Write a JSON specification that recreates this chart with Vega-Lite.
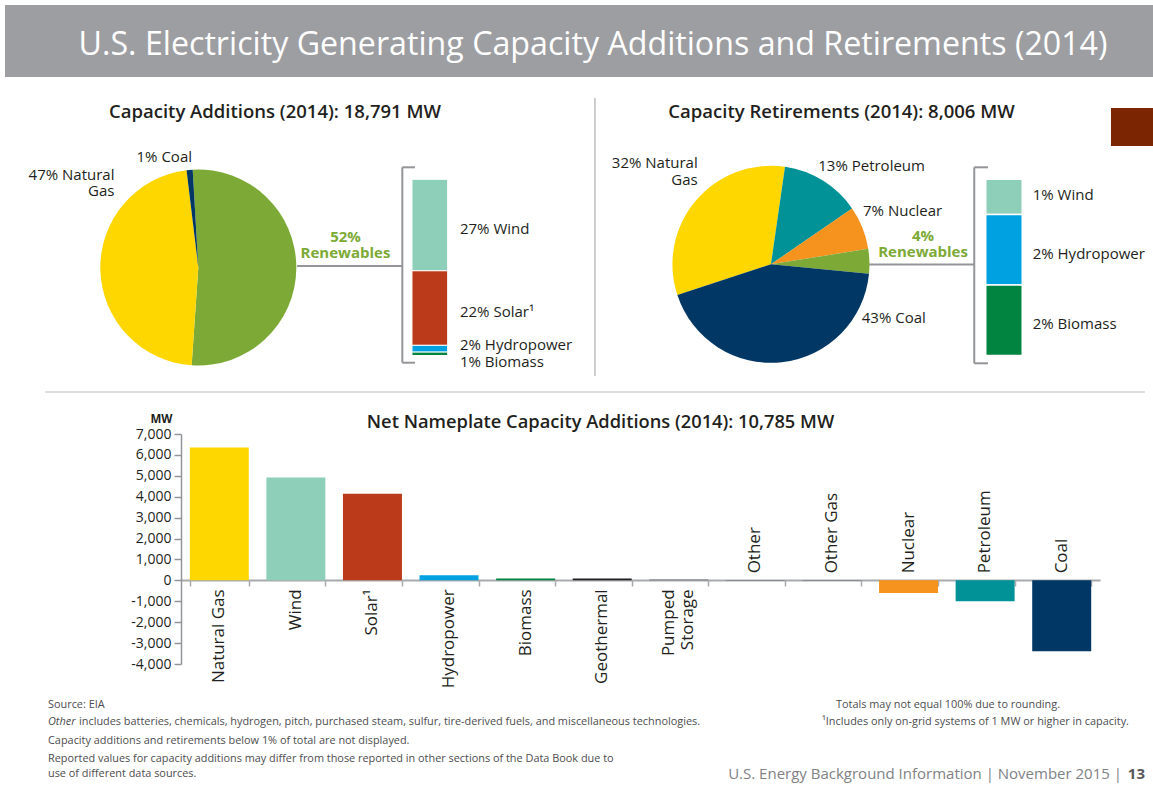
{
  "$schema": "https://vega.github.io/schema/vega-lite/v6.json",
  "background": "white",
  "padding": {"left": 5, "top": 5, "right": 0, "bottom": 0},
  "spacing": 0,
  "bounds": "flush",
  "resolve": {"scale": {"color": "independent"}},
  "config": {"view": {"stroke": null}, "font": "Open Sans", "text": {"font": "Open Sans", "color": "#231f20"}},
  "datasets": {
    "additions_mix": [
      {"source": "Renewables", "pct": 52},
      {"source": "Natural Gas", "pct": 47},
      {"source": "Coal", "pct": 1}
    ],
    "additions_renewables": [
      {"source": "Wind", "pct": 27},
      {"source": "Solar", "pct": 22},
      {"source": "Hydropower", "pct": 2},
      {"source": "Biomass", "pct": 1}
    ],
    "retirements_mix": [
      {"source": "Natural Gas", "pct": 32},
      {"source": "Petroleum", "pct": 13},
      {"source": "Nuclear", "pct": 7},
      {"source": "Renewables", "pct": 4},
      {"source": "Coal", "pct": 43}
    ],
    "retirements_renewables": [
      {"source": "Wind", "pct": 1},
      {"source": "Hydropower", "pct": 2},
      {"source": "Biomass", "pct": 2}
    ],
    "net_additions": [
      {"category": "Natural Gas", "value": 6355},
      {"category": "Wind", "value": 4914},
      {"category": "Solar", "value": 4146},
      {"category": "Hydropower", "value": 240},
      {"category": "Biomass", "value": 90},
      {"category": "Geothermal", "value": 90},
      {"category": "Pumped Storage", "value": 40},
      {"category": "Other", "value": -20},
      {"category": "Other Gas", "value": -20},
      {"category": "Nuclear", "value": -610},
      {"category": "Petroleum", "value": -994},
      {"category": "Coal", "value": -3395}
    ]
  },
  "vconcat": [
    {
      "width": 1148,
      "height": 72,
      "view": {"fill": "#9d9ea2", "stroke": null},
      "data": {"values": [{}]},
      "mark": {"type": "text", "text": "U.S. Electricity Generating Capacity Additions and Retirements (2014)", "color": "white", "fontSize": 32.2, "fontWeight": 500, "align": "center", "baseline": "middle", "dx": 14, "dy": 4},
      "encoding": {}
    },
    {
      "width": 1148,
      "height": 357,
      "resolve": {"scale": {"theta": "independent"}},
      "layer": [
        {
          "data": {"values": [{}]},
          "layer": [
            {"mark": {"type": "rule", "color": "#d1d3d4", "strokeWidth": 1.5},
             "encoding": {"x": {"datum": 3.484, "type": "quantitative", "scale": {"domain": [0, 100], "nice": false, "zero": false}, "axis": null}, "x2": {"datum": 99.3},
                          "y": {"datum": -0.2072, "type": "quantitative", "scale": {"domain": [-0.4455, 1.5806], "nice": false, "zero": false}, "axis": null}}},
            {"mark": {"type": "rule", "color": "#bcbec0", "strokeWidth": 1.5},
             "encoding": {"x": {"datum": 51.39, "type": "quantitative", "axis": null}, "y": {"datum": 1.4614, "type": "quantitative", "axis": null}, "y2": {"datum": -0.1163}}},
            {"mark": {"type": "rect", "color": "#7b2503"},
             "encoding": {"x": {"datum": 96.34, "type": "quantitative", "axis": null}, "x2": {"datum": 100}, "y": {"datum": 1.4047, "type": "quantitative", "axis": null}, "y2": {"datum": 1.189}}},

            {"mark": {"type": "rule", "color": "#939598", "strokeWidth": 2},
             "encoding": {"x": {"datum": 25.44, "type": "quantitative", "axis": null}, "x2": {"datum": 34.61}, "y": {"datum": 0.5079, "type": "quantitative", "axis": null}}},
            {"mark": {"type": "rule", "color": "#939598", "strokeWidth": 2},
             "encoding": {"x": {"datum": 34.61, "type": "quantitative", "axis": null}, "y": {"datum": 1.0681, "type": "quantitative", "axis": null}, "y2": {"datum": -0.0409}}},
            {"mark": {"type": "rule", "color": "#939598", "strokeWidth": 2},
             "encoding": {"x": {"datum": 34.61, "type": "quantitative", "axis": null}, "x2": {"datum": 35.71}, "y": {"datum": 1.0681, "type": "quantitative", "axis": null}}},
            {"mark": {"type": "rule", "color": "#939598", "strokeWidth": 2},
             "encoding": {"x": {"datum": 34.61, "type": "quantitative", "axis": null}, "x2": {"datum": 35.71}, "y": {"datum": -0.0409, "type": "quantitative", "axis": null}}},
            {"mark": {"type": "text", "text": "Capacity Additions (2014): 18,791 MW", "fontSize": 18.5, "fontWeight": 600, "align": "center", "baseline": "middle"},
             "encoding": {"x": {"datum": 23.52, "type": "quantitative", "axis": null}, "y": {"datum": 1.3819, "type": "quantitative", "axis": null}}},
            {"mark": {"type": "text", "text": "1% Coal", "fontSize": 15, "align": "right", "baseline": "middle"},
             "encoding": {"x": {"datum": 16.29, "type": "quantitative", "axis": null}, "y": {"datum": 1.1283, "type": "quantitative", "axis": null}}},
            {"mark": {"type": "text", "text": ["47% Natural", "Gas"], "fontSize": 15, "lineHeight": 16, "align": "right", "baseline": "middle"},
             "encoding": {"x": {"datum": 9.538, "type": "quantitative", "axis": null}, "y": {"datum": 1.0244, "type": "quantitative", "axis": null}}},
            {"mark": {"type": "text", "text": ["52%", "Renewables"], "fontSize": 15, "fontWeight": 700, "lineHeight": 16, "color": "#7daa36", "align": "center", "baseline": "middle"},
             "encoding": {"x": {"datum": 29.66, "type": "quantitative", "axis": null}, "y": {"datum": 0.6725, "type": "quantitative", "axis": null}}},

            {"mark": {"type": "rule", "color": "#939598", "strokeWidth": 2},
             "encoding": {"x": {"datum": 75.26, "type": "quantitative", "axis": null}, "x2": {"datum": 84.43}, "y": {"datum": 0.5165, "type": "quantitative", "axis": null}}},
            {"mark": {"type": "rule", "color": "#939598", "strokeWidth": 2},
             "encoding": {"x": {"datum": 84.43, "type": "quantitative", "axis": null}, "y": {"datum": 1.0681, "type": "quantitative", "axis": null}, "y2": {"datum": -0.0443}}},
            {"mark": {"type": "rule", "color": "#939598", "strokeWidth": 2},
             "encoding": {"x": {"datum": 84.43, "type": "quantitative", "axis": null}, "x2": {"datum": 85.63}, "y": {"datum": 1.0681, "type": "quantitative", "axis": null}}},
            {"mark": {"type": "rule", "color": "#939598", "strokeWidth": 2},
             "encoding": {"x": {"datum": 84.43, "type": "quantitative", "axis": null}, "x2": {"datum": 85.63}, "y": {"datum": -0.0443, "type": "quantitative", "axis": null}}},
            {"mark": {"type": "text", "text": "Capacity Retirements (2014): 8,006 MW", "fontSize": 18.5, "fontWeight": 600, "align": "center", "baseline": "middle"},
             "encoding": {"x": {"datum": 72.87, "type": "quantitative", "axis": null}, "y": {"datum": 1.3819, "type": "quantitative", "axis": null}}},
            {"mark": {"type": "text", "text": ["32% Natural", "Gas"], "fontSize": 15, "lineHeight": 17, "align": "right", "baseline": "middle"},
             "encoding": {"x": {"datum": 60.34, "type": "quantitative", "axis": null}, "y": {"datum": 1.0925, "type": "quantitative", "axis": null}}},
            {"mark": {"type": "text", "text": "13% Petroleum", "fontSize": 15, "align": "left", "baseline": "middle"},
             "encoding": {"x": {"datum": 70.84, "type": "quantitative", "axis": null}, "y": {"datum": 1.0755, "type": "quantitative", "axis": null}}},
            {"mark": {"type": "text", "text": "7% Nuclear", "fontSize": 15, "align": "left", "baseline": "middle"},
             "encoding": {"x": {"datum": 74.74, "type": "quantitative", "axis": null}, "y": {"datum": 0.8229, "type": "quantitative", "axis": null}}},
            {"mark": {"type": "text", "text": "43% Coal", "fontSize": 15, "align": "left", "baseline": "middle"},
             "encoding": {"x": {"datum": 74.63, "type": "quantitative", "axis": null}, "y": {"datum": 0.2128, "type": "quantitative", "axis": null}}},
            {"mark": {"type": "text", "text": ["4%", "Renewables"], "fontSize": 15, "fontWeight": 700, "lineHeight": 16, "color": "#7daa36", "align": "center", "baseline": "middle"},
             "encoding": {"x": {"datum": 79.97, "type": "quantitative", "axis": null}, "y": {"datum": 0.6782, "type": "quantitative", "axis": null}}}
          ]
        },
        {
          "data": {"name": "additions_mix"},
          "transform": [{"calculate": "indexof(['Renewables','Natural Gas','Coal'], datum.source)", "as": "rank"}],
          "mark": {"type": "arc", "radius": 98},
          "encoding": {
            "theta": {"field": "pct", "type": "quantitative", "scale": {"range": [-0.0576, 6.2256], "nice": false}},
            "order": {"field": "rank", "type": "quantitative"},
            "color": {"field": "source", "type": "nominal", "legend": null,
                      "scale": {"domain": ["Natural Gas", "Coal", "Renewables", "Petroleum", "Nuclear", "Wind", "Solar", "Hydropower", "Biomass"],
                                "range": ["#fed600", "#003764", "#7daa36", "#009297", "#f6921e", "#8ecfb9", "#bb3a1a", "#00a1e0", "#00843f"]}},
            "x": {"datum": 16.84, "type": "quantitative", "axis": null},
            "y": {"datum": 0.4994, "type": "quantitative", "axis": null}
          }
        },
        {
          "data": {"name": "retirements_mix"},
          "transform": [{"calculate": "indexof(['Petroleum','Nuclear','Renewables','Coal','Natural Gas'], datum.source)", "as": "rank2"}],
          "mark": {"type": "arc", "radius": 98.5},
          "encoding": {
            "theta": {"field": "pct", "type": "quantitative", "scale": {"range": [0.1431, 6.4263], "nice": false}},
            "order": {"field": "rank2", "type": "quantitative"},
            "color": {"field": "source", "type": "nominal", "legend": null},
            "x": {"datum": 66.72, "type": "quantitative", "axis": null},
            "y": {"datum": 0.5176, "type": "quantitative", "axis": null}
          }
        },
        {
          "data": {"name": "additions_renewables"},
          "transform": [
            {"calculate": "indexof(['Biomass','Hydropower','Solar','Wind'], datum.source)", "as": "rank"},
            {"stack": "pct", "groupby": [], "sort": [{"field": "rank", "order": "ascending"}], "offset": "normalize", "as": ["y0", "y1"]},
            {"calculate": "(datum.y0 + datum.y1) / 2", "as": "ymid"},
            {"calculate": "datum.pct + '% ' + (datum.source === 'Solar' ? 'Solar¹' : datum.source)", "as": "label"}
          ],
          "layer": [
            {"mark": {"type": "bar", "stroke": "white", "strokeWidth": 1},
             "encoding": {"x": {"datum": 35.45, "type": "quantitative", "axis": null}, "x2": {"datum": 38.56},
                          "y": {"field": "y0", "type": "quantitative", "axis": null}, "y2": {"field": "y1"},
                          "color": {"field": "source", "type": "nominal", "legend": null}}},
            {"transform": [{"filter": "datum.source === 'Wind' || datum.source === 'Solar'"}],
             "mark": {"type": "text", "align": "left", "baseline": "middle", "fontSize": 15, "dy": 4},
             "encoding": {"x": {"datum": 39.63, "type": "quantitative", "axis": null}, "y": {"field": "ymid", "type": "quantitative", "axis": null}, "text": {"field": "label"}}},
            {"transform": [{"filter": "datum.source === 'Hydropower'"}],
             "mark": {"type": "text", "align": "left", "baseline": "middle", "fontSize": 15, "dy": -4},
             "encoding": {"x": {"datum": 39.63, "type": "quantitative", "axis": null}, "y": {"field": "ymid", "type": "quantitative", "axis": null}, "text": {"field": "label"}}},
            {"transform": [{"filter": "datum.source === 'Biomass'"}],
             "mark": {"type": "text", "align": "left", "baseline": "middle", "fontSize": 15, "dy": 8},
             "encoding": {"x": {"datum": 39.63, "type": "quantitative", "axis": null}, "y": {"field": "ymid", "type": "quantitative", "axis": null}, "text": {"field": "label"}}}
          ]
        },
        {
          "data": {"name": "retirements_renewables"},
          "transform": [
            {"calculate": "indexof(['Biomass','Hydropower','Solar','Wind'], datum.source)", "as": "rank"},
            {"stack": "pct", "groupby": [], "sort": [{"field": "rank", "order": "ascending"}], "offset": "normalize", "as": ["y0", "y1"]},
            {"calculate": "(datum.y0 + datum.y1) / 2", "as": "ymid"},
            {"calculate": "datum.pct + '% ' + datum.source", "as": "label"}
          ],
          "layer": [
            {"mark": {"type": "bar", "stroke": "white", "strokeWidth": 1.5},
             "encoding": {"x": {"datum": 85.43, "type": "quantitative", "axis": null}, "x2": {"datum": 88.61},
                          "y": {"field": "y0", "type": "quantitative", "axis": null}, "y2": {"field": "y1"},
                          "color": {"field": "source", "type": "nominal", "legend": null}}},
            {"transform": [{"filter": "datum.source !== 'Wind'"}],
             "mark": {"type": "text", "align": "left", "baseline": "middle", "fontSize": 15, "dy": 4},
             "encoding": {"x": {"datum": 89.52, "type": "quantitative", "axis": null}, "y": {"field": "ymid", "type": "quantitative", "axis": null}, "text": {"field": "label"}}},
            {"transform": [{"filter": "datum.source === 'Wind'"}],
             "mark": {"type": "text", "align": "left", "baseline": "middle", "fontSize": 15, "dy": -2},
             "encoding": {"x": {"datum": 89.52, "type": "quantitative", "axis": null}, "y": {"field": "ymid", "type": "quantitative", "axis": null}, "text": {"field": "label"}}}
          ]
        }
      ]
    },
    {
      "width": 1095,
      "height": 230,
      "data": {"name": "net_additions"},
      "title": {"text": "Net Nameplate Capacity Additions (2014): 10,785 MW", "fontSize": 18.3, "fontWeight": 600, "color": "#231f20", "anchor": "middle", "frame": "group", "dx": 48, "offset": -19},
      "resolve": {"axis": {"y": "independent"}},
      "encoding": {
        "x": {"field": "category", "type": "nominal", "sort": null,
              "scale": {"range": [176, 1095], "paddingInner": 0.23, "paddingOuter": 0.115},
              "axis": {"orient": "bottom", "offset": -84, "labels": false, "title": null, "domainColor": "#a7a9ac", "domainWidth": 2, "tickBand": "extent", "tickColor": "#a7a9ac", "tickSize": 6, "tickWidth": 1.5}}
      },
      "layer": [
        {
          "mark": {"type": "bar"},
          "encoding": {
            "y": {"field": "value", "type": "quantitative", "scale": {"domain": [-4000, 7000], "nice": false},
                  "axis": {"orient": "left", "values": [-4000, -3000, -2000, -1000, 0, 1000, 2000, 3000, 4000, 5000, 6000, 7000],
                           "labelExpr": "replace(format(datum.value, ','), '\u2212', '-')",
                           "offset": -176,
                           "grid": false, "domainColor": "#939598", "domainWidth": 1.5, "tickColor": "#939598", "tickSize": 7, "tickWidth": 1.5,
                           "labelPadding": 3, "labelFontSize": 14, "labelColor": "#231f20",
                           "title": "MW", "titleAngle": 0, "titleFontSize": 11.5, "titleFontWeight": 700, "titleColor": "#231f20",
                           "titleX": -9, "titleY": -12, "titleAlign": "right", "titleBaseline": "alphabetic"}},
            "color": {"field": "category", "type": "nominal", "legend": null,
                      "scale": {"domain": ["Natural Gas", "Wind", "Solar", "Hydropower", "Biomass", "Geothermal", "Pumped Storage", "Other", "Other Gas", "Nuclear", "Petroleum", "Coal"],
                                "range": ["#fed600", "#8ecfb9", "#bb3a1a", "#00a1e0", "#00843f", "#231f20", "#6d6e71", "#6d6e71", "#6d6e71", "#f6921e", "#009297", "#003764"]}}
          }
        },
        {
          "transform": [
            {"filter": "datum.value > 0 && datum.category !== 'Pumped Storage'"},
            {"calculate": "datum.category === 'Solar' ? 'Solar¹' : datum.category", "as": "label"}
          ],
          "mark": {"type": "text", "angle": 270, "align": "right", "baseline": "middle", "dx": -9, "fontSize": 17},
          "encoding": {"y": {"datum": 0, "type": "quantitative", "axis": null}, "text": {"field": "label"}}
        },
        {
          "transform": [
            {"filter": "datum.category === 'Pumped Storage'"},
            {"calculate": "split(datum.category, ' ')", "as": "label"}
          ],
          "mark": {"type": "text", "angle": 270, "align": "right", "baseline": "middle", "dx": -9, "dy": -10, "fontSize": 17, "lineHeight": 19},
          "encoding": {"y": {"datum": 0, "type": "quantitative", "axis": null}, "text": {"field": "label"}}
        },
        {
          "transform": [{"filter": "datum.value <= 0"}],
          "mark": {"type": "text", "angle": 270, "align": "left", "baseline": "middle", "dx": 7, "fontSize": 17},
          "encoding": {"y": {"datum": 0, "type": "quantitative", "axis": null}, "text": {"field": "category"}}
        }
      ]
    },
    {
      "width": 1148,
      "height": 121,
      "data": {"values": [{}]},
      "layer": [
        {"mark": {"type": "text", "text": "Source: EIA", "align": "left", "baseline": "middle", "fontSize": 10.9, "color": "#4d4d4f"},
         "encoding": {"x": {"datum": 3.746, "type": "quantitative", "scale": {"domain": [0, 100], "nice": false, "zero": false}, "axis": null},
                      "y": {"datum": 66.12, "type": "quantitative", "scale": {"domain": [0, 100], "nice": false, "zero": false}, "axis": null}}},
        {"mark": {"type": "text", "text": "Other", "fontStyle": "italic", "align": "left", "baseline": "middle", "fontSize": 10.9, "color": "#4d4d4f"},
         "encoding": {"x": {"datum": 3.746, "type": "quantitative", "axis": null}, "y": {"datum": 52.07, "type": "quantitative", "axis": null}}},
        {"mark": {"type": "text", "text": "includes batteries, chemicals, hydrogen, pitch, purchased steam, sulfur, tire-derived fuels, and miscellaneous technologies.", "align": "left", "baseline": "middle", "fontSize": 10.9, "dx": 31, "color": "#4d4d4f"},
         "encoding": {"x": {"datum": 3.746, "type": "quantitative", "axis": null}, "y": {"datum": 52.07, "type": "quantitative", "axis": null}}},
        {"mark": {"type": "text", "text": "Capacity additions and retirements below 1% of total are not displayed.", "align": "left", "baseline": "middle", "fontSize": 10.9, "color": "#4d4d4f"},
         "encoding": {"x": {"datum": 3.746, "type": "quantitative", "axis": null}, "y": {"datum": 36.36, "type": "quantitative", "axis": null}}},
        {"mark": {"type": "text", "text": "Reported values for capacity additions may differ from those reported in other sections of the Data Book due to", "align": "left", "baseline": "middle", "fontSize": 10.9, "color": "#4d4d4f"},
         "encoding": {"x": {"datum": 3.746, "type": "quantitative", "axis": null}, "y": {"datum": 21.49, "type": "quantitative", "axis": null}}},
        {"mark": {"type": "text", "text": "use of different data sources.", "align": "left", "baseline": "middle", "fontSize": 10.9, "color": "#4d4d4f"},
         "encoding": {"x": {"datum": 3.746, "type": "quantitative", "axis": null}, "y": {"datum": 9.09, "type": "quantitative", "axis": null}}},
        {"mark": {"type": "text", "text": "Totals may not equal 100% due to rounding.", "align": "left", "baseline": "middle", "fontSize": 10.9, "color": "#4d4d4f"},
         "encoding": {"x": {"datum": 72.39, "type": "quantitative", "axis": null}, "y": {"datum": 66.12, "type": "quantitative", "axis": null}}},
        {"mark": {"type": "text", "text": "¹Includes only on-grid systems of 1 MW or higher in capacity.", "align": "left", "baseline": "middle", "fontSize": 10.9, "color": "#4d4d4f"},
         "encoding": {"x": {"datum": 71.17, "type": "quantitative", "axis": null}, "y": {"datum": 52.07, "type": "quantitative", "axis": null}}},
        {"mark": {"type": "text", "text": "U.S. Energy Background Information  |  November 2015  |", "align": "right", "baseline": "middle", "fontSize": 15, "color": "#808285"},
         "encoding": {"x": {"datum": 97.3, "type": "quantitative", "axis": null}, "y": {"datum": 9.09, "type": "quantitative", "axis": null}}},
        {"mark": {"type": "text", "text": "13", "align": "right", "baseline": "middle", "fontSize": 15, "fontWeight": 700, "color": "#58595b"},
         "encoding": {"x": {"datum": 99.3, "type": "quantitative", "axis": null}, "y": {"datum": 9.09, "type": "quantitative", "axis": null}}}
      ]
    }
  ]
}
